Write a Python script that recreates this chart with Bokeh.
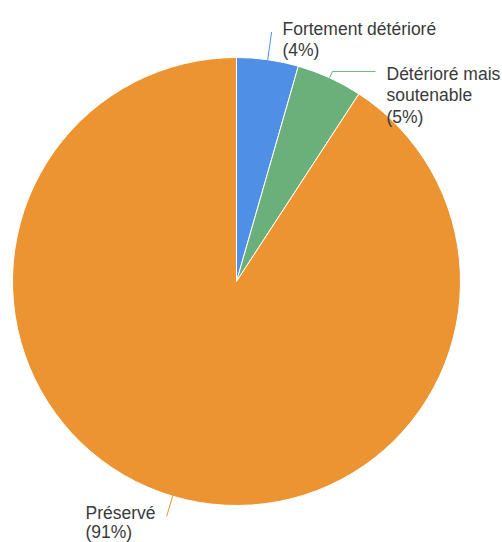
import math
from bokeh.plotting import figure
from bokeh.models import Range1d
from bokeh.core.properties import value
from bokeh.embed import file_html
from bokeh.resources import INLINE

categories = ["Fortement détérioré", "Détérioré mais soutenable", "Préservé"]
values = [4.45, 4.75, 90.8]
colors = ["#4f8fe6", "#6bb07b", "#ec9431"]

W, H = 502, 542
p = figure(width=W, height=H, output_backend="svg", toolbar_location=None,
           x_range=Range1d(0, W), y_range=Range1d(0, H), min_border=0)
p.axis.visible = False
p.grid.visible = False
p.outline_line_color = None


def sx(x):
    return x


def sy(y):
    return H - y


cx, cy, R = sx(236), sy(281), 224
total = sum(values)
starts, ends, mids = [], [], []
cum = 0.0
for v in values:
    a0 = math.pi / 2 - 2 * math.pi * cum / total
    cum += v
    a1 = math.pi / 2 - 2 * math.pi * cum / total
    starts.append(a0)
    ends.append(a1)
    mids.append((a0 + a1) / 2)

p.wedge(x=[cx] * 3, y=[cy] * 3, radius=R, start_angle=starts, end_angle=ends,
        direction="clock", fill_color=colors, line_color="white", line_width=1)

# leader lines
r_out = [252, 231, 245]
tails = [None, sx(375), None]
for i in range(3):
    x0 = cx + R * math.cos(mids[i])
    y0 = cy + R * math.sin(mids[i])
    x1 = cx + r_out[i] * math.cos(mids[i])
    y1 = cy + r_out[i] * math.sin(mids[i])
    xs, ys = [x0, x1], [y0, y1]
    if tails[i] is not None:
        xs.append(tails[i])
        ys.append(y1)
    p.line(xs, ys, line_color=colors[i], line_width=1)

pct = ["(%d%%)" % round(v * 100 / total) for v in values]
label_lines = [
    ["Fortement détérioré", pct[0]],
    ["Détérioré mais", "soutenable", pct[1]],
    ["Préservé", pct[2]],
]
label_x = [282, 386, 85]
label_y0 = [28, 73, 512]
line_h = [21.5, 21.5, 19]

tx, ty, tt = [], [], []
for i, lines in enumerate(label_lines):
    for j, t in enumerate(lines):
        tx.append(sx(label_x[i]))
        ty.append(sy(label_y0[i] + j * line_h[i]))
        tt.append(t)

p.text(x=tx, y=ty, text=tt, text_font=value("Liberation Sans"),
       text_font_size="17.5px", text_color="#3a3a3a",
       text_align="left", text_baseline="alphabetic")

open("out.html", "w").write(file_html(p, INLINE))
